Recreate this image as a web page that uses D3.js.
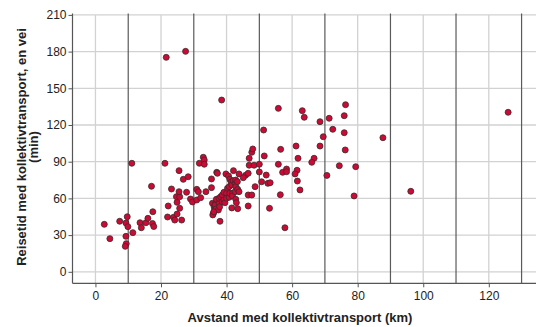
<!DOCTYPE html>
<html>
<head>
<meta charset="utf-8">
<script src="https://cdn.jsdelivr.net/npm/d3@7"></script>
<style>
    body { margin: 0; background: #fff; }
    svg { display: block; font-family: 'Liberation Sans', Arial, sans-serif; }
    .tick text { font-size: 12px; fill: #222; }
    .axis-title { font-size: 13px; font-weight: bold; fill: #222; }
</style>
</head>
<body>
<svg id="chart" width="536" height="327"></svg>
<script>
// distance (km) and travel time (min), one entry per respondent
const distKm = [
    2.7, 4.4, 7.4, 9.3, 9.7, 9.9, 9.3, 9.4, 9.1, 11.1, 11.4, 13.6, 14, 15.4, 16, 17.1, 17.5, 17.4, 17.8,
    21.2, 21.6, 22.2, 22, 23.2, 23.8, 24.2, 24.9, 24.9, 24.7, 25.7, 25.5, 25.5, 25.7, 26.3, 26.8, 27.5,
    27.8, 28.3, 29, 29.6, 30.9, 30.9, 31.4, 31.7, 32.1, 32.9, 33.2, 33.2, 33.7, 35.4, 35.4, 35.7, 36.2,
    36.4, 36, 36.7, 36.5, 36.9, 36.7, 37.5, 37.7, 37.9, 37.7, 38.2, 38.7, 38.7, 39.2, 39.2, 39.5, 37,
    37.2, 38, 38.5, 39.8, 40, 40, 40.3, 40.6, 40.8, 40.8, 41, 41, 41.4, 41.6, 41.6, 41.8, 41.8, 42, 42.1,
    42.6, 42.6, 42.8, 42.8, 42.8, 43, 43.3, 43.4, 43.4, 43.8, 43.8, 35.8, 36.1,
    45.8, 46.6, 46.6, 46.6, 46.9, 47.7, 48, 47.7, 46.9, 48.4, 48.7, 50, 50, 50.7, 51.5, 51.3, 52.1, 52.6,
    53.1, 53.3, 55.8, 55.8, 56.5, 56.4, 57.1, 57.8, 58.3, 58.3, 61.2, 61.8, 61.5, 60.9, 61.6, 62.4, 63.1,
    63.7, 66.7, 66, 68.5, 68.5, 69.5, 70.6, 71.3, 72.4, 74.4, 75.9, 75.9, 76.2, 76.3, 79.4, 78.9, 87.7,
    96.2, 125.9, 45.1
];
const timeMin = [
    38.8, 27.1, 41.3, 39.9, 45, 36.9, 29, 23, 20.8, 88.7, 32, 40.1, 36, 40.1, 43.7, 69.9, 49.1, 39.5, 37,
    88.7, 175.3, 53.8, 44.8, 67.7, 44.5, 42.3, 47.2, 56.8, 61.4, 61.4, 65.5, 82.7, 51.9, 42.3, 75.6, 180.2,
    65, 77.7, 59.5, 57.1, 58.7, 67.4, 65.5, 88.7, 60.6, 93.6, 91.4, 87.9, 65.5, 68.8, 75.9, 56, 53.2,
    50.5, 47.8, 56.8, 54.6, 59.3, 51.3, 50.5, 56, 53.2, 60.1, 61.4, 62.8, 57.3, 58.7, 65, 56.5, 81.3,
    80.5, 41.3, 140.4, 80, 64.2, 60.1, 68.3, 78.3, 69.6, 60.9, 75.6, 64.2, 73.4, 71, 52.2, 64.2, 62, 74.5, 82.7,
    72.3, 65.5, 75, 69.6, 59.3, 56.5, 73.7, 67.4, 51.6, 65.5, 80, 46.5, 49,
    78.9, 80.5, 62.8, 53.8, 92.8, 97.7, 100.4, 62.8, 87.1, 87.1, 69.6, 87.9, 81.6, 73.6, 94.7, 115.9, 79.1, 72.3,
    51.9, 72.8, 133.6, 87.9, 100.1, 63, 81.3, 36, 84, 81.8, 102.8, 92.8, 83, 80, 74.2, 66.9, 131.7,
    126.3, 92.8, 89.5, 122.7, 102.8, 110.4, 78.8, 125.5, 116.5, 86.7, 127.6, 113.7, 99.6, 136.6, 85.9, 62, 109.6,
    65.8, 130.4, 76.9
];

const xTicks = [0, 20, 40, 60, 80, 100, 120];
const xRefLines = [10, 30, 50, 70, 90, 110, 130];
const yTicks = [0, 30, 60, 90, 120, 150, 180, 210];

const xLabel = 'Avstand med kollektivtransport (km)';
const yLabel = ['Reisetid med kollektivtransport, en vei', '(min)'];

const plot = {left: 72.5, right: 536, top: 14.9, bottom: 283.3};

const svg = d3.select('#chart');

const xScale = d3.scaleLinear()
    .domain([-7, 134.4])
    .range([plot.left, plot.right]);

const yScale = d3.scaleLinear()
    .domain([-9.4, 210])
    .range([plot.bottom, plot.top]);

// light grid
svg.append('g')
    .selectAll('line')
    .data(xTicks)
    .enter()
    .append('line')
    .attr('x1', d => xScale(d))
    .attr('x2', d => xScale(d))
    .attr('y1', plot.top)
    .attr('y2', plot.bottom)
    .attr('stroke', '#d2d2d2')
    .attr('stroke-width', 1.3);

svg.append('g')
    .selectAll('line')
    .data(yTicks)
    .enter()
    .append('line')
    .attr('x1', plot.left)
    .attr('x2', plot.right)
    .attr('y1', d => yScale(d))
    .attr('y2', d => yScale(d))
    .attr('stroke', '#d2d2d2')
    .attr('stroke-width', 1.3);

// darker reference lines between the ticks
svg.append('g')
    .selectAll('line')
    .data(xRefLines)
    .enter()
    .append('line')
    .attr('x1', d => xScale(d))
    .attr('x2', d => xScale(d))
    .attr('y1', plot.top - 1.5)
    .attr('y2', plot.bottom)
    .attr('stroke', '#5a5a5a')
    .attr('stroke-width', 1.2);

// axes
const xAxis = d3.axisBottom(xScale).tickValues(xTicks).tickSize(4).tickPadding(4);
const yAxis = d3.axisLeft(yScale).tickValues(yTicks).tickSize(4).tickPadding(2);

const gx = svg.append('g')
    .attr('transform', `translate(0, ${plot.bottom})`)
    .call(xAxis);
gx.select('.domain').remove();
gx.selectAll('.tick line').attr('stroke', '#555');

const gy = svg.append('g')
    .attr('transform', `translate(${plot.left}, 0)`)
    .call(yAxis);
gy.select('.domain').remove();
gy.selectAll('.tick line').attr('stroke', '#555');

svg.append('line')
    .attr('x1', plot.left).attr('x2', plot.right)
    .attr('y1', plot.bottom).attr('y2', plot.bottom)
    .attr('stroke', '#555').attr('stroke-width', 1.2);
svg.append('line')
    .attr('x1', plot.left).attr('x2', plot.left)
    .attr('y1', plot.top - 1.5).attr('y2', plot.bottom)
    .attr('stroke', '#555').attr('stroke-width', 1.2);

svg.selectAll('.tick text').attr('font-family', null).attr('font-size', null);

// points
svg.append('g')
    .selectAll('circle')
    .data(d3.range(distKm.length))
    .enter()
    .append('circle')
    .attr('cx', i => xScale(distKm[i]))
    .attr('cy', i => yScale(timeMin[i]))
    .attr('r', 3)
    .attr('fill', '#cc0a35')
    .attr('stroke', '#3a2a2a')
    .attr('stroke-width', 0.8);

// titles
svg.append('text')
    .attr('class', 'axis-title')
    .attr('x', 300)
    .attr('y', 322)
    .attr('text-anchor', 'middle')
    .text(xLabel);

const yt = svg.append('text')
    .attr('class', 'axis-title')
    .attr('transform', 'translate(26, 147) rotate(-90)')
    .attr('text-anchor', 'middle');
yt.append('tspan').attr('x', 0).attr('y', 0).text(yLabel[0]);
yt.append('tspan').attr('x', 0).attr('y', 11.5).text(yLabel[1]);
</script>
</body>
</html>
